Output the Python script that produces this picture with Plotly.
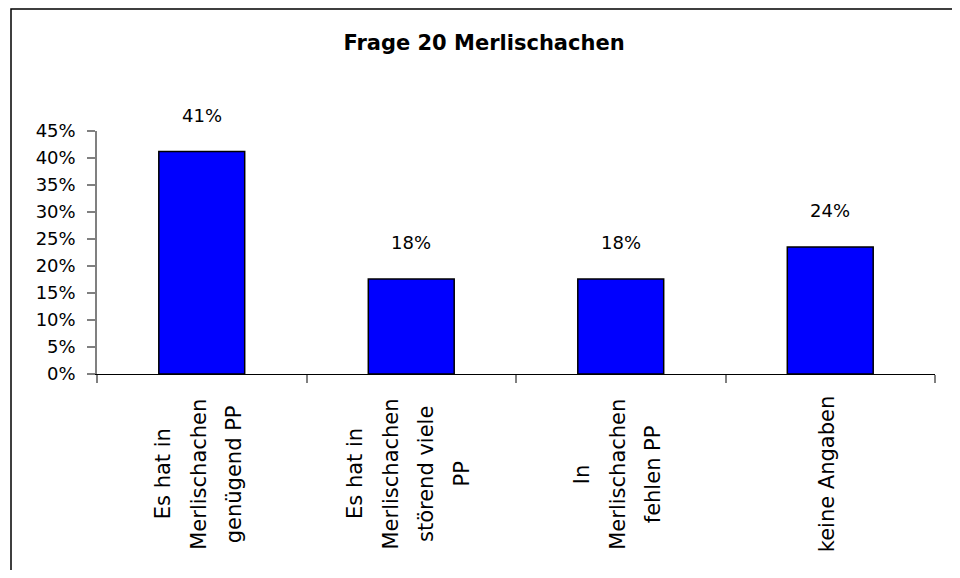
import plotly.graph_objects as go

# Data (share of answers, in percent)
category_lines = [
    ["Es hat in", "Merlischachen", "genügend PP"],
    ["Es hat in", "Merlischachen", "störend viele", "PP"],
    ["In", "Merlischachen", "fehlen PP"],
    ["keine Angaben"],
]
categories = [" ".join(lines) for lines in category_lines]
shares = [41.2, 17.6, 17.6, 23.5]
y_ticks = [0, 5, 10, 15, 20, 25, 30, 35, 40, 45]

# the page body adds an 8px margin, so work in page pixels and subtract it
OFF = 8
W, H = 960 - OFF, 578 - 2 * OFF
L = 97 - OFF
T = 131 - OFF
R = W - (935 - OFF)
B = H - (374 - OFF)
PW, PH = W - L - R, H - T - B
FONT = "DejaVu Sans"


def px_x(px):
    return (px - OFF - L) / PW


def px_y(py):
    return (H - B - (py - OFF)) / PH


fig = go.Figure(go.Bar(
    x=categories,
    y=shares,
    width=0.41,
    marker=dict(color="#0000FF", line=dict(color="#000000", width=1.5)),
    hoverinfo="skip",
))

annotations = []
# value labels above the bars
for cat, val in zip(categories, shares):
    annotations.append(dict(
        x=cat, y=val, xref="x", yref="y",
        text=f"{val:.0f}%", showarrow=False,
        yanchor="bottom", yshift=24,
        font=dict(family=FONT, size=18, color="#000000"),
    ))

# rotated, centred category labels (one annotation per line)
for cat, lines in zip(categories, category_lines):
    n = len(lines)
    for k, line in enumerate(lines):
        annotations.append(dict(
            x=cat, y=px_y(474), xref="x", yref="paper",
            text=line, showarrow=False, textangle=-90,
            xanchor="center", yanchor="middle",
            xshift=(k - (n - 1) / 2) * 35.5 - 3,
            font=dict(family=FONT, size=21, color="#000000"),
        ))

fig.update_layout(
    width=W, height=H,
    margin=dict(l=L, r=R, t=T, b=B),
    paper_bgcolor="white",
    plot_bgcolor="white",
    showlegend=False,
    title=dict(
        text="<b>Frage 20 Merlischachen</b>",
        x=(484 - OFF) / W, y=1 - (43 - OFF) / H,
        xanchor="center", yanchor="middle",
        font=dict(family=FONT, size=21, color="#000000"),
    ),
    annotations=annotations,
    # chart frame (its bottom edge lies below the visible area)
    shapes=[dict(
        type="rect", xref="paper", yref="paper",
        x0=px_x(11), x1=px_x(954), y0=px_y(9), y1=px_y(600),
        line=dict(color="#000000", width=1.5),
    )],
)

fig.update_xaxes(
    range=[-0.5, 3.5],
    showticklabels=False,
    showline=True, linecolor="#000000", linewidth=1,
    ticks="outside", tickson="boundaries", ticklen=8,
    tickcolor="#808080", tickwidth=1.5,
    showgrid=False, zeroline=False,
)

fig.update_yaxes(
    range=[0, 45],
    tickvals=y_ticks,
    ticktext=[f"{t}%" for t in y_ticks],
    showline=True, linecolor="#808080", linewidth=1.5,
    ticks="outside", ticklen=8, tickcolor="#808080", tickwidth=1.5,
    ticklabelstandoff=8,
    tickfont=dict(family=FONT, size=18, color="#000000"),
    showgrid=False, zeroline=False,
)

fig.write_html("out.html")
